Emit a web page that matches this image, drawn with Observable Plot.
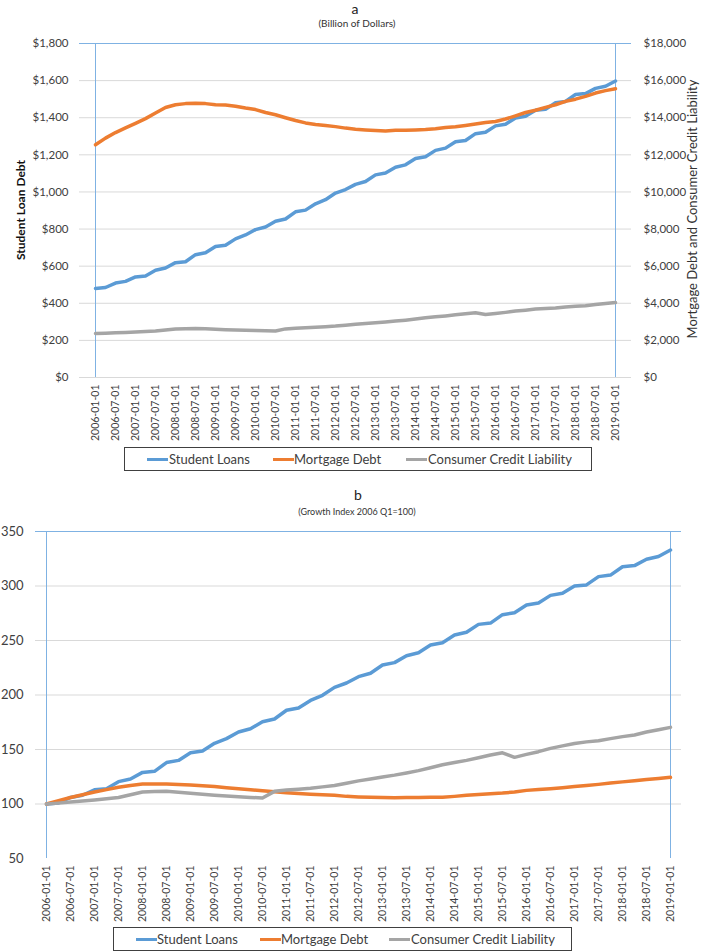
<!DOCTYPE html>
<html><head><meta charset="utf-8">
<script src="https://cdn.jsdelivr.net/npm/d3@7"></script>
<script src="https://cdn.jsdelivr.net/npm/@observablehq/plot@0.6"></script>
<style>
body{margin:0;background:#fff;font-family:Lato,sans-serif;color:#404040}
#wrap{position:relative;width:703px;height:952px;overflow:hidden;background:#fff}
.abs{position:absolute;white-space:nowrap}
.ttl{font-size:14px;line-height:17px;text-align:center;color:#222}
.sub{font-size:9px;line-height:9px;text-align:center;color:#333}
.rot{transform:translate(-50%,-50%) rotate(-90deg);font-size:12px;line-height:12px;color:#333}
.leg{position:absolute;border:1px solid #404040;box-sizing:border-box;background:#fff}
.sw{position:absolute;height:3px}
.lt{position:absolute;font-size:13px;line-height:13px;color:#404040}
svg{position:absolute;left:0}
</style></head><body><div id="wrap"></div>
<script>
const quarters = [
"2006-01-01","2006-04-01","2006-07-01","2006-10-01",
"2007-01-01","2007-04-01","2007-07-01","2007-10-01",
"2008-01-01","2008-04-01","2008-07-01","2008-10-01",
"2009-01-01","2009-04-01","2009-07-01","2009-10-01",
"2010-01-01","2010-04-01","2010-07-01","2010-10-01",
"2011-01-01","2011-04-01","2011-07-01","2011-10-01",
"2012-01-01","2012-04-01","2012-07-01","2012-10-01",
"2013-01-01","2013-04-01","2013-07-01","2013-10-01",
"2014-01-01","2014-04-01","2014-07-01","2014-10-01",
"2015-01-01","2015-04-01","2015-07-01","2015-10-01",
"2016-01-01","2016-04-01","2016-07-01","2016-10-01",
"2017-01-01","2017-04-01","2017-07-01","2017-10-01",
"2018-01-01","2018-04-01","2018-07-01","2018-10-01",
"2019-01-01"];
const tickLabels = [
"2006-01-01","2006-07-01","2007-01-01","2007-07-01","2008-01-01","2008-07-01",
"2009-01-01","2009-07-01","2010-01-01","2010-07-01","2011-01-01","2011-07-01",
"2012-01-01","2012-07-01","2013-01-01","2013-07-01","2014-01-01","2014-07-01",
"2015-01-01","2015-07-01","2016-01-01","2016-07-01","2017-01-01","2017-07-01",
"2018-01-01","2018-07-01","2019-01-01"];

// Panel a: billions of dollars
const studentLoans = [480,485,509,518,542,547,578,590,619,624,662,672,706,713,747,768,797,811,842,854,893,902,936,958,994,1013,1041,1056,1092,1102,1133,1146,1180,1190,1224,1236,1271,1277,1314,1322,1356,1365,1399,1408,1440,1445,1481,1488,1525,1530,1558,1570,1598];
const mortgageDebt = [12540,12900,13200,13450,13700,13950,14250,14550,14700,14760,14780,14760,14700,14680,14620,14520,14440,14280,14160,14000,13850,13720,13640,13580,13520,13440,13380,13340,13310,13280,13320,13330,13340,13360,13400,13470,13510,13580,13660,13740,13800,13930,14100,14280,14400,14560,14700,14880,15000,15150,15330,15460,15560];
const consumerCredit = [2370,2390,2410,2430,2450,2480,2510,2560,2610,2630,2640,2630,2600,2580,2560,2550,2530,2520,2510,2620,2650,2680,2710,2740,2770,2820,2870,2910,2950,2990,3040,3090,3150,3220,3270,3320,3380,3440,3490,3400,3450,3510,3580,3630,3690,3720,3750,3800,3840,3870,3930,3990,4040];
const leftTicksA = [0,200,400,600,800,1000,1200,1400,1600,1800];
const rightTicksA = [0,2000,4000,6000,8000,10000,12000,14000,16000,18000];

// Panel b: growth index 2006 Q1 = 100
const studentIndex = [100,101,106,108,113,114,120.5,123,129,130,138,140,147,148.6,155.7,160,166,169,175.5,178,186,188,195,199.7,207,211,216.8,220,227.5,229.7,236,238.8,245.9,248,255,257.5,264.8,266,273.7,275.5,282.6,284.4,291.4,293.3,300,301,308.6,310,317.7,318.7,324.5,327,333];
const mortgageIndex = [100,103,106,108.5,111,113.2,115.3,117,118.3,118.4,118.3,117.9,117.4,116.7,116,115,114,113.1,112.2,111.3,110.4,109.6,108.9,108.4,108,107,106.5,106.2,105.9,105.8,105.9,106,106.1,106.1,107,108,108.7,109.4,110,111,112.5,113.3,114.1,115,116,117,118,119.2,120.3,121.4,122.5,123.5,124.5];
const consumerIndex = [100,100.8,101.8,102.8,103.7,104.8,106,108.5,111,111.5,111.6,110.8,109.8,108.9,108,107.3,106.7,106,105.5,111.6,112.8,113.6,114.4,115.7,117,119,121.2,123,124.8,126.5,128.5,130.6,133.3,136,138,140,142.4,145,147,142.8,145.5,148,151,153.3,155.5,157,158,160,161.8,163.3,166,168.2,170.3];
const ticksB = [50,100,150,200,250,300,350];

const seriesNames = ["Student Loans","Mortgage Debt","Consumer Credit Liability"];
const colors = ["#5B9BD5","#ED7D31","#A5A5A5"];
const frameColor = "#7FB2E3";
const gridColor = "#D9D9D9";
const ratio = 10; // right axis / left axis in panel a
const lw = 3.5;

const wrap = document.getElementById("wrap");
function add(html){ wrap.insertAdjacentHTML("beforeend", html); }

const rowsOf = (vals) => quarters.map((q,i) => ({q, v: vals[i]}));
const money = d3.format(",");

// ---------- Panel a ----------
const plotA = Plot.plot({
  width: 703, height: 415,
  marginLeft: 79, marginRight: 72, marginTop: 13, marginBottom: 68,
  x: {type: "point", domain: quarters, axis: null},
  y: {domain: [0, 1800], axis: null},
  style: {fontFamily: "Lato, sans-serif", fontSize: "11px", color: "#404040", background: "transparent"},
  marks: [
    Plot.ruleY(leftTicksA.slice(0, -1), {stroke: gridColor}),
    Plot.ruleY([leftTicksA[leftTicksA.length-1]], {stroke: frameColor}),
    Plot.ruleX([quarters[0], quarters[quarters.length-1]], {stroke: frameColor}),
    Plot.line(rowsOf(studentLoans), {x: "q", y: "v", stroke: colors[0], strokeWidth: lw, strokeLinejoin: "round"}),
    Plot.line(rowsOf(mortgageDebt), {x: "q", y: d => d.v / ratio, stroke: colors[1], strokeWidth: lw, strokeLinejoin: "round"}),
    Plot.line(rowsOf(consumerCredit), {x: "q", y: d => d.v / ratio, stroke: colors[2], strokeWidth: lw, strokeLinejoin: "round"}),
    Plot.axisY(leftTicksA, {anchor: "left", tickSize: 0, tickPadding: 11, tickFormat: d => "$" + money(d), label: null, fontSize: 11.5}),
    Plot.axisY(rightTicksA.map(v => v / ratio), {anchor: "right", tickSize: 0, tickPadding: 12, tickFormat: d => "$" + money(Math.round(d * ratio)), label: null, fontSize: 11.5}),
    Plot.axisX(tickLabels, {anchor: "bottom", tickRotate: -90, tickSize: 0, tickPadding: 7, label: null, fontSize: 10.5})
  ]
});
plotA.style.top = "30px";
wrap.appendChild(plotA);

add(`<div class="abs ttl" style="left:305px;width:100px;top:0px">a</div>`);
add(`<div class="abs sub" style="left:257px;width:200px;top:17.5px;font-size:10px;line-height:10px">(Billion of Dollars)</div>`);
add(`<div class="abs rot" style="left:21px;top:210px;font-weight:bold;color:#111">Student Loan Debt</div>`);
add(`<div class="abs rot" style="left:692px;top:209px;font-size:13px;line-height:13px">Mortgage Debt and Consumer Credit Liability</div>`);

function legend(left, top, width, items) {
  let h = `<div class="leg" style="left:${left}px;top:${top}px;width:${width}px;height:24px">`;
  items.forEach((it, i) => {
    h += `<div class="sw" style="left:${it.sx}px;top:10px;width:21px;background:${colors[i]}"></div>`;
    h += `<div class="lt" style="left:${it.tx}px;top:4.5px">${seriesNames[i]}</div>`;
  });
  h += `</div>`;
  add(h);
}
legend(124, 447, 468, [{sx: 22, tx: 44}, {sx: 148, tx: 169}, {sx: 281, tx: 303}]);

// ---------- Panel b ----------
const plotB = Plot.plot({
  width: 703, height: 405,
  marginLeft: 35, marginRight: 22, marginTop: 11, marginBottom: 67,
  x: {type: "point", domain: quarters, axis: null},
  y: {domain: [50, 350], axis: null},
  style: {fontFamily: "Lato, sans-serif", fontSize: "13px", color: "#404040", background: "transparent"},
  marks: [
    Plot.ruleY(ticksB.slice(1, -1), {stroke: gridColor}),
    Plot.ruleY([ticksB[ticksB.length-1]], {stroke: frameColor}),
    Plot.ruleX([quarters[0], quarters[quarters.length-1]], {stroke: frameColor}),
    Plot.line(rowsOf(studentIndex), {x: "q", y: "v", stroke: colors[0], strokeWidth: lw, strokeLinejoin: "round"}),
    Plot.line(rowsOf(mortgageIndex), {x: "q", y: "v", stroke: colors[1], strokeWidth: lw, strokeLinejoin: "round"}),
    Plot.line(rowsOf(consumerIndex), {x: "q", y: "v", stroke: colors[2], strokeWidth: lw, strokeLinejoin: "round"}),
    Plot.axisY(ticksB, {anchor: "left", tickSize: 0, tickPadding: 12, label: null, fontSize: 13}),
    Plot.axisX(tickLabels, {anchor: "bottom", tickRotate: -90, tickSize: 0, tickPadding: 7, label: null, fontSize: 10.5})
  ]
});
plotB.style.top = "520px";
wrap.appendChild(plotB);

add(`<div class="abs ttl" style="left:308px;width:100px;top:486px">b</div>`);
add(`<div class="abs sub" style="left:257px;width:200px;top:506.5px">(Growth Index 2006 Q1=100)</div>`);
legend(113, 927, 459, [{sx: 22, tx: 43}, {sx: 146, tx: 167}, {sx: 275, tx: 297}]);
</script>
</body></html>
